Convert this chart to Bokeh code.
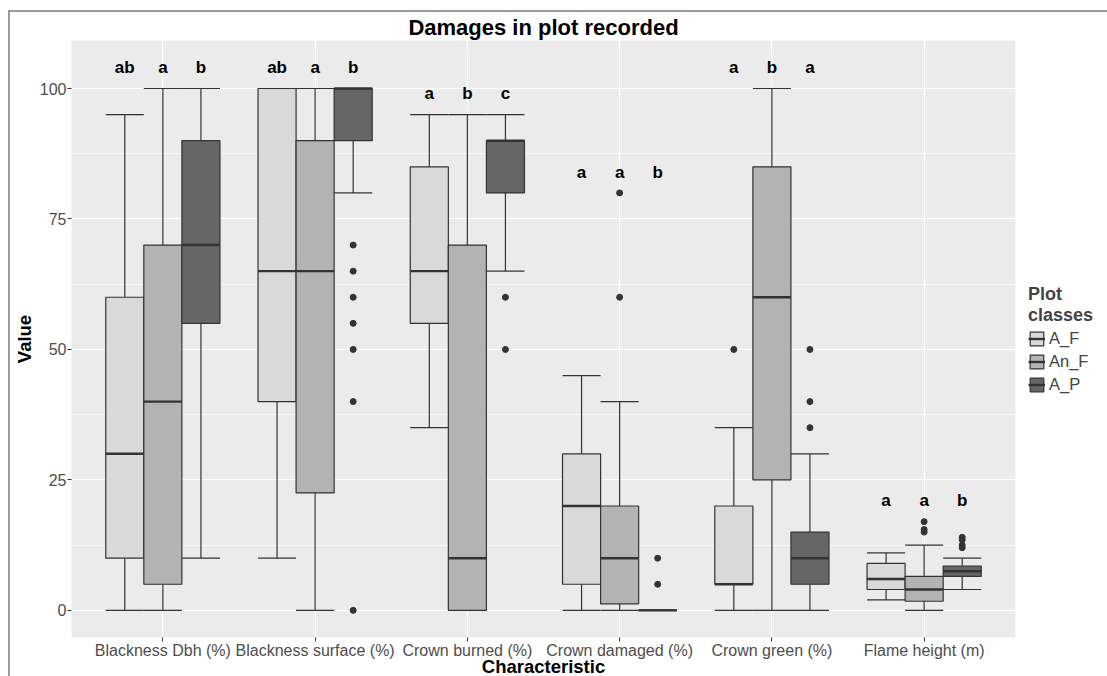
from bokeh.plotting import figure
from bokeh.models import Range1d, FixedTicker, ColumnDataSource, Legend, LegendItem
from bokeh.core.properties import value
from bokeh.embed import file_html
from bokeh.resources import INLINE

# ---------------- data ----------------
categories = ["Blackness Dbh (%)", "Blackness surface (%)", "Crown burned (%)",
              "Crown damaged (%)", "Crown green (%)", "Flame height (m)"]
groups = ["A_F", "An_F", "A_P"]

# A_F
af_low = [0, 10, 35, 0, 0, 2]
af_q1 = [10, 40, 55, 5, 5, 4]
af_med = [30, 65, 65, 20, 5, 6]
af_q3 = [60, 100, 85, 30, 20, 9]
af_up = [95, 100, 95, 45, 35, 11]
# An_F
anf_low = [0, 0, 0, 0, 0, 0]
anf_q1 = [5, 22.5, 0, 1.25, 25, 1.75]
anf_med = [40, 65, 10, 10, 60, 4]
anf_q3 = [70, 90, 70, 20, 85, 6.5]
anf_up = [100, 100, 95, 40, 100, 12.5]
# A_P
ap_low = [10, 80, 65, 0, 0, 4]
ap_q1 = [55, 90, 80, 0, 5, 6.5]
ap_med = [70, 100, 90, 0, 10, 7.5]
ap_q3 = [90, 100, 90, 0, 15, 8.5]
ap_up = [100, 100, 95, 0, 30, 10]

# outliers: (category index, group, value)
out_cat = [1, 1, 1, 1, 1, 1, 1, 2, 2, 3, 3, 3, 3, 4, 4, 4, 4, 5, 5, 5, 5, 5, 5, 5]
out_grp = ["A_P"] * 7 + ["A_P"] * 2 + ["An_F"] * 2 + ["A_P"] * 2 + ["A_F"] + ["A_P"] * 3 + ["An_F"] * 3 + ["A_P"] * 4
out_val = [70, 65, 60, 55, 50, 40, 0, 60, 50, 80, 60, 10, 5, 50, 50, 40, 35, 17, 15.5, 15, 14, 13.5, 12.5, 12]

# significance letters per category (A_F, An_F, A_P)
letters = [["ab", "a", "b"], ["ab", "a", "b"], ["a", "b", "c"],
           ["a", "a", "b"], ["a", "b", "a"], ["a", "a", "b"]]

stats = {
    "A_F": (af_low, af_q1, af_med, af_q3, af_up),
    "An_F": (anf_low, anf_q1, anf_med, anf_q3, anf_up),
    "A_P": (ap_low, ap_q1, ap_med, ap_q3, ap_up),
}
fills = {"A_F": "#D9D9D9", "An_F": "#B3B3B3", "A_P": "#666666"}
offsets = {"A_F": -0.25, "An_F": 0.0, "A_P": 0.25}
BW = 0.25
FONT = "Liberation Sans"
EDGE = "#333333"

p = figure(frame_width=944, frame_height=597, x_range=Range1d(0.4, 6.6), y_range=Range1d(-5.2, 109.2),
           output_backend="svg", toolbar_location=None,
           min_border_left=59, min_border_right=94, min_border_top=28, min_border_bottom=39,
           title="Damages in plot recorded")
p.styles = {"margin-left": "8px", "margin-top": "10px",
            "border-left": "2px solid #9A9A9A", "border-top": "2px solid #9A9A9A"}

p.background_fill_color = "#EBEBEB"
p.border_fill_color = "white"
p.outline_line_color = None

p.title.text_font = FONT
p.title.text_font_size = "22px"
p.title.text_font_style = "bold"
p.title.align = "center"
p.title.text_color = "black"
p.title.text_line_height = 1.0
p.title.standoff = 1

# axes
p.xaxis.ticker = FixedTicker(ticks=list(range(1, len(categories) + 1)))
p.xaxis.major_label_overrides = {i + 1: c for i, c in enumerate(categories)}
p.yaxis.ticker = FixedTicker(ticks=[0, 25, 50, 75, 100], minor_ticks=[12.5, 37.5, 62.5, 87.5])
for ax in (p.xaxis, p.yaxis):
    ax.axis_line_color = None
    ax.major_tick_line_color = "#333333"
    ax.major_tick_out = 4
    ax.major_tick_in = 0
    ax.minor_tick_line_color = None
    ax.major_label_text_font = FONT
    ax.major_label_text_font_size = "16px"
    ax.major_label_text_color = "#4D4D4D"
    ax.major_label_text_line_height = 1.0
    ax.major_label_standoff = 1
    ax.axis_label_text_font = FONT
    ax.axis_label_text_font_size = "18.5px"
    ax.axis_label_text_font_style = "bold"
    ax.axis_label_text_color = "black"
    ax.axis_label_text_line_height = 1.0
    ax.axis_label_standoff = 2
p.xaxis.axis_label = "Characteristic"
p.yaxis.axis_label = "Value"
p.xaxis.major_label_standoff = 0
p.xaxis.axis_label_standoff = -6

p.xgrid.grid_line_color = "white"
p.xgrid.grid_line_width = 1.2
p.ygrid.grid_line_color = "white"
p.ygrid.grid_line_width = 1.2
p.ygrid.minor_grid_line_color = "white"
p.ygrid.minor_grid_line_width = 0.6

items = []
for g in groups:
    low, q1, med, q3, up = stats[g]
    xs = [i + 1 + offsets[g] for i in range(len(categories))]
    src = ColumnDataSource(dict(
        x=xs, x0=[x - BW / 2 for x in xs], x1=[x + BW / 2 for x in xs],
        low=low, q1=q1, med=med, q3=q3, up=up))
    # whiskers and caps
    p.segment(x0="x", y0="q3", x1="x", y1="up", source=src, line_color=EDGE, line_width=1.2)
    p.segment(x0="x", y0="q1", x1="x", y1="low", source=src, line_color=EDGE, line_width=1.2)
    p.segment(x0="x0", y0="up", x1="x1", y1="up", source=src, line_color=EDGE, line_width=1.2)
    p.segment(x0="x0", y0="low", x1="x1", y1="low", source=src, line_color=EDGE, line_width=1.2)
    # box
    box = p.vbar(x="x", width=BW, top="q3", bottom="q1", source=src,
                 fill_color=fills[g], line_color=EDGE, line_width=1.2)
    med_r = p.segment(x0="x0", y0="med", x1="x1", y1="med", source=src,
                      line_color=EDGE, line_width=2.4)
    items.append(LegendItem(label=g, renderers=[box, med_r]))

# outliers
ox = [c + 1 + offsets[g] for c, g in zip(out_cat, out_grp)]
p.scatter(x=ox, y=out_val, size=6, fill_color=EDGE, line_color=EDGE)

# letters above boxes
lx, ly, lt = [], [], []
for i, labs in enumerate(letters):
    top = max(max(stats[g][4][i] for g in groups),
              max([v for c, v in zip(out_cat, out_val) if c == i] or [0]))
    for g, t in zip(groups, labs):
        lx.append(i + 1 + offsets[g])
        ly.append(top + 4)
        lt.append(t)
p.text(x=lx, y=ly, text=lt, text_font=value(FONT), text_font_size="17px",
       text_font_style="bold", text_align="center", text_baseline="middle", text_color="black")

legend = Legend(items=items, location="center_left", title="Plot\nclasses")
legend.title_text_font = FONT
legend.title_text_font_size = "18px"
legend.title_text_font_style = "bold"
legend.title_text_line_height = 1.0
legend.title_standoff = 3
legend.label_text_font = FONT
legend.label_text_font_size = "16.5px"
legend.label_text_line_height = 1.0
legend.glyph_width = 17
legend.glyph_height = 17
legend.label_height = 17
legend.spacing = 4
legend.label_standoff = 4
legend.margin = 13
legend.padding = 6
legend.border_line_color = None
legend.background_fill_color = "white"
p.add_layout(legend, "right")

open("out.html", "w").write(file_html(p, INLINE))
